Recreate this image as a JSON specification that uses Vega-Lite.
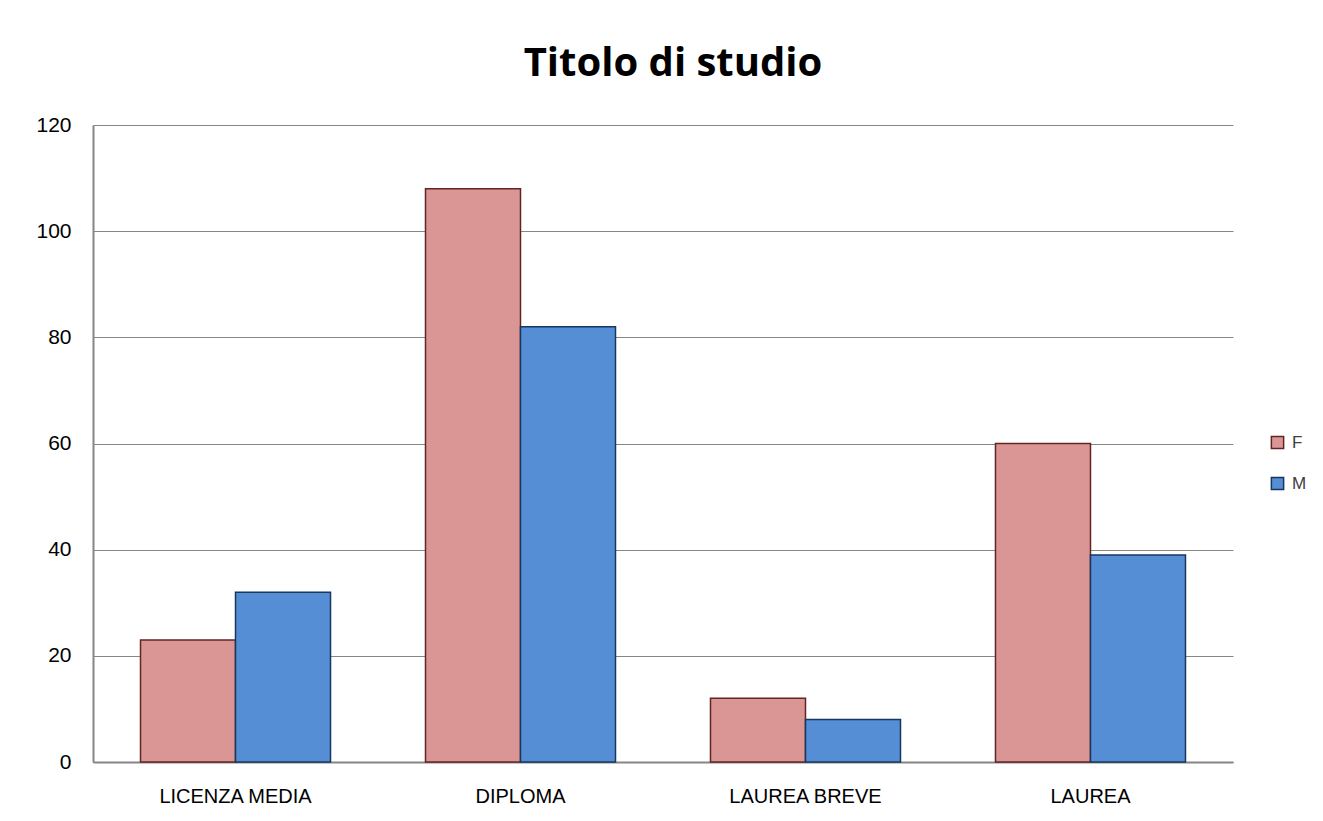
{
  "$schema": "https://vega.github.io/schema/vega-lite/v6.json",
  "autosize": {"type": "none"},
  "width": 1140,
  "height": 637,
  "padding": {"left": 93, "top": 125, "right": 90, "bottom": 59},
  "background": "white",
  "config": {
    "font": "Liberation Sans",
    "view": {"stroke": null}
  },
  "title": {
    "text": "Titolo di studio",
    "fontSize": 40,
    "fontWeight": "bold",
    "font": "Open Sans",
    "color": "#000000",
    "anchor": "middle",
    "dx": 10,
    "offset": 30
  },
  "data": {
    "values": [
      {"titolo": "LICENZA MEDIA", "sesso": "F", "valore": 23},
      {"titolo": "LICENZA MEDIA", "sesso": "M", "valore": 32},
      {"titolo": "DIPLOMA", "sesso": "F", "valore": 108},
      {"titolo": "DIPLOMA", "sesso": "M", "valore": 82},
      {"titolo": "LAUREA BREVE", "sesso": "F", "valore": 12},
      {"titolo": "LAUREA BREVE", "sesso": "M", "valore": 8},
      {"titolo": "LAUREA", "sesso": "F", "valore": 60},
      {"titolo": "LAUREA", "sesso": "M", "valore": 39}
    ]
  },
  "mark": {"type": "bar", "strokeWidth": 1.5},
  "encoding": {
    "x": {
      "field": "titolo",
      "type": "nominal",
      "sort": ["LICENZA MEDIA", "DIPLOMA", "LAUREA BREVE", "LAUREA"],
      "scale": {"paddingInner": 0.3333, "paddingOuter": 0.1667},
      "axis": {
        "title": null,
        "labelAngle": 0,
        "labelFontSize": 20,
        "labelColor": "#000000",
        "labelPadding": 24,
        "ticks": false,
        "domainColor": "#868686",
        "domainWidth": 2
      }
    },
    "xOffset": {"field": "sesso", "type": "nominal", "scale": {"paddingInner": 0, "paddingOuter": 0}},
    "y": {
      "field": "valore",
      "type": "quantitative",
      "scale": {"domain": [0, 120], "nice": false},
      "axis": {
        "title": null,
        "values": [0, 20, 40, 60, 80, 100, 120],
        "labelFontSize": 21,
        "labelColor": "#000000",
        "labelPadding": 22,
        "ticks": false,
        "domainColor": "#868686",
        "domainWidth": 2,
        "gridColor": "#868686",
        "gridWidth": 1
      }
    },
    "color": {
      "field": "sesso",
      "type": "nominal",
      "scale": {"domain": ["F", "M"], "range": ["#D99694", "#558ED5"]},
      "legend": {
        "title": null,
        "orient": "none",
        "legendX": 1176,
        "legendY": 309,
        "symbolType": "square",
        "symbolSize": 150,
        "symbolStrokeWidth": 1.5,
        "labelFontSize": 17,
        "labelColor": "#404040",
        "rowPadding": 22,
        "labelOffset": 6
      }
    },
    "stroke": {
      "field": "sesso",
      "type": "nominal",
      "scale": {"domain": ["F", "M"], "range": ["#632523", "#17375E"]},
      "legend": null
    }
  }
}
